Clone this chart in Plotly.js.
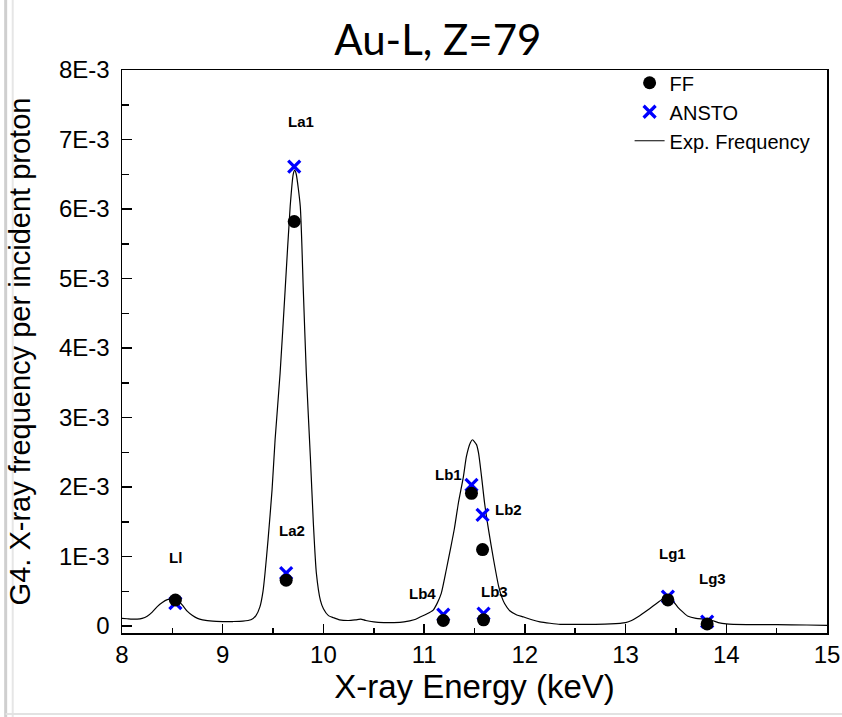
<!DOCTYPE html>
<html>
<head>
<meta charset="utf-8">
<script src="https://cdn.plot.ly/plotly-3.0.1.min.js"></script>
<style>html,body{margin:0;padding:0;background:#fff;}#chart{width:842px;height:717px;}</style>
</head>
<body>
<div id="chart"></div>
<script>
// Experimental spectrum (X-ray energy in keV, frequency per incident proton)
const energyKeV = [8.00,8.05,8.10,8.15,8.20,8.25,8.30,8.35,8.40,8.45,8.50,8.55,8.60,8.65,8.70,8.75,8.80,8.90,9.00,9.10,9.20,9.28,9.33,9.37,9.40,9.42,9.45,9.49,9.52,9.57,9.62,9.67,9.70,9.715,9.73,9.77,9.80,9.83,9.87,9.90,9.93,9.97,10.00,10.05,10.10,10.16,10.25,10.32,10.37,10.42,10.50,10.60,10.70,10.80,10.90,10.96,11.02,11.09,11.13,11.17,11.22,11.26,11.30,11.34,11.39,11.42,11.46,11.48,11.52,11.54,11.57,11.60,11.64,11.69,11.74,11.77,11.80,11.85,11.92,11.99,12.07,12.15,12.25,12.35,12.50,12.70,12.85,13.00,13.06,13.12,13.22,13.32,13.38,13.42,13.47,13.52,13.57,13.62,13.70,13.80,13.86,13.92,14.00,14.20,14.50,14.80,15.00];
const expFrequency = [1.1e-4,1.05e-4,1.0e-4,1.0e-4,1.1e-4,1.4e-4,2.0e-4,2.8e-4,3.4e-4,3.8e-4,3.9e-4,3.7e-4,3.0e-4,2.1e-4,1.5e-4,1.1e-4,0.9e-4,0.7e-4,0.65e-4,0.65e-4,0.7e-4,0.9e-4,1.5e-4,2.8e-4,5.0e-4,7.6e-4,1.24e-3,1.96e-3,2.68e-3,3.64e-3,4.84e-3,6.04e-3,6.50e-3,6.56e-3,6.50e-3,6.04e-3,4.84e-3,3.64e-3,2.44e-3,1.48e-3,7.6e-4,3.7e-4,2.5e-4,1.5e-4,1.2e-4,0.9e-4,0.8e-4,0.9e-4,1.0e-4,0.8e-4,0.6e-4,0.5e-4,0.5e-4,0.6e-4,0.9e-4,1.3e-4,1.7e-4,2.3e-4,3.3e-4,4.7e-4,8.1e-4,1.1e-3,1.40e-3,1.77e-3,2.15e-3,2.44e-3,2.64e-3,2.68e-3,2.61e-3,2.49e-3,2.15e-3,1.77e-3,1.38e-3,9.5e-4,5.7e-4,4.2e-4,3.2e-4,2.2e-4,1.6e-4,1.3e-4,0.9e-4,0.6e-4,0.4e-4,0.25e-4,0.25e-4,0.25e-4,0.3e-4,0.5e-4,0.8e-4,1.3e-4,2.3e-4,3.4e-4,4.0e-4,4.1e-4,3.6e-4,2.7e-4,2.0e-4,1.4e-4,1.1e-4,1.0e-4,0.8e-4,0.5e-4,0.3e-4,0.2e-4,0.2e-4,0.15e-4,0.1e-4];

// Characteristic lines
const lineNames  = ['Ll','La2','La1','Lb4','Lb1','Lb2','Lb3','Lg1','Lg3'];
const lineEnergy = [8.53, 9.63, 9.71, 11.19, 11.47, 11.58, 11.59, 13.42, 13.81];
const ffValues    = [3.75e-4, 6.6e-4, 5.82e-3, 0.8e-4, 1.91e-3, 1.10e-3, 0.9e-4, 3.76e-4, 0.3e-4];
const anstoValues = [3.3e-4, 7.6e-4, 6.61e-3, 1.65e-4, 2.03e-3, 1.60e-3, 1.8e-4, 4.25e-4, 0.65e-4];

// Label anchor positions (data coordinates)
const labelX = [8.53, 9.685, 9.78, 10.98, 11.24, 11.84, 11.70, 13.47, 13.86];
const labelY = [9.9e-4, 1.38e-3, 7.26e-3, 4.7e-4, 2.18e-3, 1.68e-3, 4.9e-4, 1.05e-3, 6.8e-4];

// Axis ticks
const xTickVals = [8, 9, 10, 11, 12, 13, 14, 15];
const xTickText = ['8', '9', '10', '11', '12', '13', '14', '15'];
const yTickVals = [0, 0.001, 0.002, 0.003, 0.004, 0.005, 0.006, 0.007, 0.008];
const yTickText = ['0', '1E-3', '2E-3', '3E-3', '4E-3', '5E-3', '6E-3', '7E-3', '8E-3'];

const FONT = '"Liberation Sans", Arial, sans-serif';

const traces = [
  {
    x: energyKeV, y: expFrequency, type: 'scatter', mode: 'lines',
    name: 'Exp. Frequency', legendrank: 3,
    line: {color: '#000', width: 1.2, shape: 'spline', smoothing: 0.6}
  },
  {
    x: lineEnergy, y: anstoValues, type: 'scatter', mode: 'markers',
    name: 'ANSTO', legendrank: 2,
    marker: {symbol: 'x-thin', size: 12, color: '#0000ff', line: {color: '#0000ff', width: 3.2}}
  },
  {
    x: lineEnergy, y: ffValues, type: 'scatter', mode: 'markers',
    name: 'FF', legendrank: 1,
    marker: {symbol: 'circle', size: 13, color: '#000', line: {width: 0}}
  }
];

const annotations = lineNames.map((t, i) => ({
  x: labelX[i], y: labelY[i], xref: 'x', yref: 'y', text: '<b>' + t + '</b>',
  showarrow: false, font: {family: FONT, size: 15, color: '#000'}
}));

const shapes = [
  {type: 'line', xref: 'paper', yref: 'paper', x0: -0.165, x1: -0.165, y0: -0.16, y1: 1.13, line: {color: '#cfcfcf', width: 3}},
  {type: 'line', xref: 'paper', yref: 'paper', x0: -0.155, x1: -0.155, y0: -0.16, y1: 1.13, line: {color: '#e6e6e6', width: 2}},
  {type: 'line', xref: 'paper', yref: 'paper', x0: -0.165, x1: 1.03, y0: -0.144, y1: -0.144, line: {color: '#e2e2e2', width: 2}}
];

const layout = {
  width: 842, height: 717,
  margin: {l: 122, r: 15, t: 70, b: 84},
  paper_bgcolor: '#fff', plot_bgcolor: '#fff',
  font: {family: FONT, color: '#000'},
  title: {
    text: 'Au-L, Z=79', x: 0.52, xref: 'container', xanchor: 'center',
    y: 0.944, yref: 'container', yanchor: 'middle',
    font: {family: 'Lato, "Open Sans", sans-serif', size: 42, color: '#000'}
  },
  xaxis: {
    range: [8, 15], tickmode: 'array', tickvals: xTickVals, ticktext: xTickText,
    ticks: 'inside', ticklen: 9, tickwidth: 1.5, tickcolor: '#000',
    minor: {dtick: 0.5, tick0: 8, ticks: 'inside', ticklen: 5, tickwidth: 1.5, tickcolor: '#000'},
    showline: true, linewidth: 1.5, linecolor: '#000', mirror: true,
    showgrid: false, zeroline: false,
    tickfont: {family: FONT, size: 24, color: '#000'},
    title: {text: 'X-ray Energy (keV)', font: {family: FONT, size: 33, color: '#000'}, standoff: 0}
  },
  yaxis: {
    range: [-0.0001, 0.008], tickmode: 'array', tickvals: yTickVals, ticktext: yTickText,
    ticks: 'inside', ticklen: 10, tickwidth: 1.5, tickcolor: '#000',
    minor: {dtick: 0.0005, tick0: 0, ticks: 'inside', ticklen: 7, tickwidth: 1.5, tickcolor: '#000'},
    showline: true, linewidth: 1.5, linecolor: '#000', mirror: true,
    showgrid: false, zeroline: false,
    ticklabelstandoff: 6,
    tickfont: {family: FONT, size: 24, color: '#000'},
    title: {text: 'G4. X-ray frequency per incident proton', font: {family: FONT, size: 29, color: '#000'}, standoff: 20}
  },
  legend: {
    x: 0.72, xanchor: 'left', y: 1.012, yanchor: 'top',
    bgcolor: 'rgba(0,0,0,0)', borderwidth: 0,
    font: {family: FONT, size: 20, color: '#000'},
    tracegroupgap: 0
  },
  annotations: annotations,
  shapes: shapes
};

Plotly.newPlot('chart', traces, layout, {displayModeBar: false, staticPlot: true});
</script>
</body>
</html>
